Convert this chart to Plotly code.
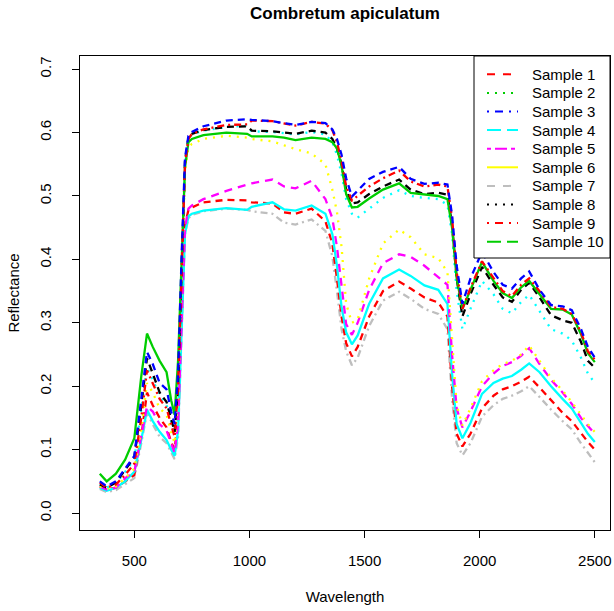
import plotly.graph_objects as go

wavelength = [350, 380, 420, 460, 500, 530, 555, 580, 610, 640, 660, 675, 690, 705, 720, 735,
              750, 800, 900, 990, 1010, 1100, 1150, 1200, 1270, 1330, 1360, 1380, 1400, 1420,
              1445, 1470, 1520, 1580, 1650, 1700, 1760, 1820, 1860, 1880, 1900, 1925, 1960,
              2010, 2060, 2100, 2140, 2180, 2215, 2260, 2310, 2360, 2400, 2440, 2470, 2500]

red_dashed = [0.042, 0.037, 0.040, 0.050, 0.060, 0.120, 0.190, 0.170, 0.150, 0.135, 0.112, 0.100, 0.150, 0.310, 0.455, 0.478,
              0.482, 0.490, 0.494, 0.493, 0.490, 0.488, 0.474, 0.472, 0.480, 0.460, 0.425, 0.370, 0.310, 0.268,
              0.247, 0.262, 0.310, 0.350, 0.365, 0.354, 0.340, 0.332, 0.310, 0.200, 0.125, 0.105, 0.125,
              0.165, 0.185, 0.195, 0.200, 0.207, 0.215, 0.198, 0.178, 0.158, 0.145, 0.125, 0.112, 0.100]

green_solid = [0.062, 0.050, 0.062, 0.084, 0.118, 0.215, 0.283, 0.262, 0.240, 0.222, 0.178, 0.155, 0.240, 0.400, 0.545, 0.585,
               0.590, 0.596, 0.600, 0.598, 0.594, 0.594, 0.592, 0.588, 0.592, 0.590, 0.585, 0.575, 0.548, 0.503,
               0.482, 0.483, 0.496, 0.510, 0.520, 0.505, 0.502, 0.500, 0.495, 0.450, 0.370, 0.322, 0.352,
               0.396, 0.366, 0.347, 0.339, 0.356, 0.366, 0.345, 0.322, 0.321, 0.313, 0.282, 0.252, 0.238]

blue_dashed = [0.050, 0.042, 0.050, 0.070, 0.090, 0.180, 0.254, 0.235, 0.205, 0.195, 0.160, 0.140, 0.220, 0.400, 0.560, 0.595,
               0.601, 0.610, 0.619, 0.621, 0.620, 0.618, 0.615, 0.612, 0.617, 0.615, 0.605, 0.590, 0.565, 0.528,
               0.499, 0.508, 0.527, 0.538, 0.546, 0.527, 0.519, 0.521, 0.518, 0.470, 0.390, 0.330, 0.370,
               0.412, 0.380, 0.360, 0.354, 0.370, 0.381, 0.352, 0.328, 0.326, 0.320, 0.290, 0.262, 0.245]

cyan_solid = [0.040, 0.035, 0.040, 0.050, 0.065, 0.115, 0.163, 0.145, 0.128, 0.115, 0.100, 0.090, 0.130, 0.290, 0.440, 0.468,
              0.472, 0.477, 0.481, 0.478, 0.483, 0.490, 0.479, 0.477, 0.485, 0.472, 0.440, 0.390, 0.325, 0.285,
              0.266, 0.280, 0.330, 0.370, 0.384, 0.374, 0.359, 0.352, 0.330, 0.220, 0.140, 0.118, 0.142,
              0.188, 0.205, 0.212, 0.216, 0.226, 0.236, 0.222, 0.200, 0.180, 0.165, 0.142, 0.125, 0.112]

magenta_dashed = [0.042, 0.037, 0.040, 0.055, 0.065, 0.120, 0.168, 0.160, 0.140, 0.130, 0.110, 0.095, 0.140, 0.300, 0.450, 0.480,
                  0.485, 0.495, 0.508, 0.518, 0.520, 0.526, 0.515, 0.512, 0.524, 0.495, 0.465, 0.420, 0.360, 0.298,
                  0.281, 0.300, 0.352, 0.394, 0.408, 0.404, 0.390, 0.372, 0.360, 0.250, 0.165, 0.135, 0.160,
                  0.200, 0.220, 0.232, 0.238, 0.248, 0.260, 0.235, 0.210, 0.190, 0.172, 0.150, 0.137, 0.125]

yellow_dotted = [0.042, 0.038, 0.042, 0.055, 0.070, 0.130, 0.205, 0.190, 0.165, 0.155, 0.128, 0.110, 0.180, 0.370, 0.540, 0.577,
                 0.582, 0.590, 0.595, 0.592, 0.590, 0.586, 0.580, 0.574, 0.567, 0.550, 0.510, 0.475, 0.420, 0.330,
                 0.300, 0.305, 0.370, 0.425, 0.447, 0.435, 0.408, 0.402, 0.380, 0.280, 0.170, 0.138, 0.165,
                 0.208, 0.225, 0.235, 0.240, 0.250, 0.264, 0.240, 0.213, 0.193, 0.175, 0.155, 0.140, 0.128]

gray_dashdot = [0.038, 0.033, 0.036, 0.045, 0.055, 0.110, 0.158, 0.140, 0.120, 0.110, 0.095, 0.085, 0.120, 0.280, 0.440, 0.465,
                0.470, 0.476, 0.480, 0.478, 0.476, 0.472, 0.458, 0.455, 0.463, 0.445, 0.405, 0.350, 0.290, 0.255,
                0.233, 0.245, 0.295, 0.335, 0.349, 0.338, 0.322, 0.314, 0.290, 0.180, 0.110, 0.091, 0.110,
                0.152, 0.170, 0.180, 0.185, 0.192, 0.200, 0.183, 0.163, 0.145, 0.132, 0.110, 0.095, 0.080]

black_dashed = [0.045, 0.040, 0.048, 0.068, 0.088, 0.170, 0.244, 0.220, 0.190, 0.175, 0.150, 0.128, 0.200, 0.390, 0.555, 0.592,
                0.598, 0.604, 0.609, 0.610, 0.603, 0.602, 0.600, 0.598, 0.603, 0.600, 0.590, 0.575, 0.550, 0.510,
                0.488, 0.490, 0.503, 0.515, 0.526, 0.510, 0.503, 0.505, 0.502, 0.455, 0.370, 0.310, 0.345,
                0.388, 0.360, 0.340, 0.333, 0.352, 0.363, 0.340, 0.312, 0.304, 0.300, 0.270, 0.240, 0.229]

red_dashdot = [0.048, 0.040, 0.045, 0.060, 0.078, 0.150, 0.225, 0.205, 0.180, 0.165, 0.140, 0.120, 0.200, 0.380, 0.550, 0.590,
               0.598, 0.605, 0.612, 0.613, 0.619, 0.618, 0.614, 0.611, 0.617, 0.614, 0.604, 0.585, 0.555, 0.515,
               0.493, 0.500, 0.515, 0.528, 0.540, 0.523, 0.515, 0.518, 0.515, 0.465, 0.380, 0.322, 0.355,
               0.397, 0.370, 0.350, 0.342, 0.360, 0.370, 0.350, 0.325, 0.322, 0.314, 0.285, 0.255, 0.242]

cyan_dotted = [0.045, 0.040, 0.047, 0.065, 0.085, 0.160, 0.230, 0.210, 0.185, 0.170, 0.145, 0.125, 0.200, 0.385, 0.550, 0.590,
               0.597, 0.603, 0.609, 0.611, 0.602, 0.601, 0.599, 0.597, 0.601, 0.597, 0.585, 0.565, 0.535, 0.495,
               0.472, 0.466, 0.480, 0.497, 0.509, 0.500, 0.497, 0.495, 0.486, 0.440, 0.350, 0.290, 0.322,
               0.366, 0.345, 0.322, 0.315, 0.333, 0.344, 0.318, 0.290, 0.283, 0.272, 0.245, 0.220, 0.205]

x_ticks = [500, 1000, 1500, 2000, 2500]
y_ticks = [0.0, 0.1, 0.2, 0.3, 0.4, 0.5, 0.6, 0.7]
y_tick_labels = ["0.0", "0.1", "0.2", "0.3", "0.4", "0.5", "0.6", "0.7"]

legend_labels = ["Sample 1", "Sample 2", "Sample 3", "Sample 4", "Sample 5",
                 "Sample 6", "Sample 7", "Sample 8", "Sample 9", "Sample 10"]
legend_colors = ["#FF0000", "#00CD00", "#0000FF", "#00FFFF", "#FF00FF",
                 "#FFFF00", "#BEBEBE", "#000000", "#FF0000", "#00CD00"]
legend_dashes = ["8px,8px", "2px,6px", "2px,6px,8px,6px", "14px,6px", "4px,4px,12px,4px",
                 "solid", "8px,8px", "2px,6px", "2px,6px,8px,6px", "14px,6px"]

curves = [
    ("Sample 7", gray_dashdot, "#BEBEBE", "7px,4px,2px,4px"),
    ("Sample 1", red_dashed, "#FF0000", "7px,5px"),
    ("Sample 4", cyan_solid, "#00FFFF", "solid"),
    ("Sample 5", magenta_dashed, "#FF00FF", "8px,6px"),
    ("Sample 6", yellow_dotted, "#FFFF00", "2px,6px"),
    ("Sample 2", cyan_dotted, "#00FFFF", "2px,6px"),
    ("Sample 8", black_dashed, "#000000", "7px,5px"),
    ("Sample 10", green_solid, "#00CD00", "solid"),
    ("Sample 9", red_dashdot, "#FF0000", "7px,4px,2px,4px"),
    ("Sample 3", blue_dashed, "#0000FF", "7px,5px"),
]

# plot box in pixels
W, H = 614, 611
L, R, T, B = 80, 610, 56, 530

fig = go.Figure()
for name, ys, col, dash in curves:
    fig.add_trace(go.Scatter(x=wavelength, y=ys, mode="lines", name=name, showlegend=False,
                             line=dict(color=col, width=2.3, dash=dash), hoverinfo="skip"))

def px(xp):
    return (xp - L) / (R - L)

def py(yp):
    return (B - yp) / (B - T)

font = "Liberation Sans, Arial, sans-serif"

# legend (R style, top-right corner of plot box)
leg_left, leg_right, leg_top, leg_bottom = 474, R, T, 258
row0, row_step = 74.3, 18.6
shapes = [dict(type="rect", xref="paper", yref="paper",
               x0=px(leg_left), x1=px(leg_right), y0=py(leg_bottom), y1=py(leg_top),
               line=dict(color="black", width=1), fillcolor="white", layer="above")]
annotations = []
for i, (lab, col, dash) in enumerate(zip(legend_labels, legend_colors, legend_dashes)):
    yy = row0 + i * row_step
    shapes.append(dict(type="line", xref="paper", yref="paper",
                       x0=px(487), x1=px(518), y0=py(yy), y1=py(yy),
                       line=dict(color=col, width=2, dash=dash), layer="above"))
    annotations.append(dict(text=lab, xref="paper", yref="paper", x=px(530), y=py(yy),
                            xanchor="left", yanchor="middle", showarrow=False,
                            font=dict(size=15, family=font, color="black")))

fig.update_layout(
    width=W, height=H,
    margin=dict(l=L, r=W - R, t=T, b=H - B),
    paper_bgcolor="white", plot_bgcolor="white",
    font=dict(family=font, size=15, color="black"),
    title=dict(text="<b>Combretum apiculatum</b>", x=(L + R) / 2 / W, xanchor="center",
               y=1 - 13 / H, yanchor="middle", font=dict(size=17, family=font)),
    showlegend=False,
    shapes=shapes,
    annotations=annotations,
)
fig.update_xaxes(range=[264, 2566], tickvals=x_ticks, automargin=False,
                 ticks="outside", ticklen=7, tickcolor="black", showgrid=False, zeroline=False,
                 showline=True, linecolor="black", linewidth=1, mirror=True, ticklabelstandoff=10,
                 title=dict(text="Wavelength", standoff=23, font=dict(size=15)), tickfont=dict(size=15))
fig.update_yaxes(range=[-0.0268, 0.7208], tickvals=y_ticks, ticktext=y_tick_labels, tickangle=-90,
                 automargin=False, ticklabelstandoff=15,
                 ticks="outside", ticklen=7, tickcolor="black", showgrid=False, zeroline=False,
                 showline=True, linecolor="black", linewidth=1, mirror=True,
                 title=dict(text="Reflectance", standoff=13, font=dict(size=15)), tickfont=dict(size=15))

fig.write_html("out.html", config={"displayModeBar": False},
               post_script="document.body.style.margin='0px';")
